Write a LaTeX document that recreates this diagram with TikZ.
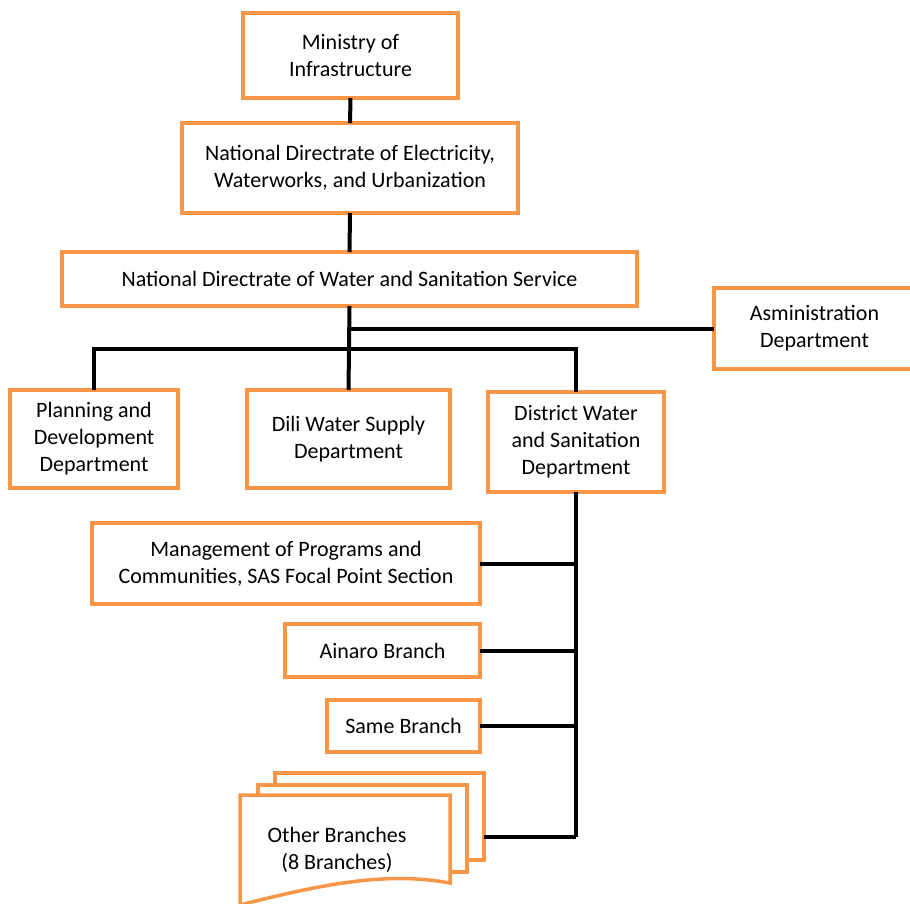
\documentclass[tikz,border=0pt]{standalone}
\usepackage{fontspec}
\setmainfont{Carlito}
\definecolor{borange}{HTML}{F79646}
\begin{document}
\begin{tikzpicture}[x=1pt,y=-1pt,
  box/.style={draw=borange,line width=3.5pt,fill=white,align=center,inner sep=0pt,outer sep=0pt,
    font=\fontsize{22}{27}\selectfont},
  conn/.style={line width=4pt,black}]
\useasboundingbox (0,0) rectangle (910,903);
\clip (0,0) rectangle (910,903);
\node[box,minimum width=215pt,minimum height=85pt] (min) at (350.5,55.5) {Ministry of\\Infrastructure};
\node[box,minimum width=336pt,minimum height=90pt] (ndewu) at (350,168) {National Directrate of Electricity,\\Waterworks, and Urbanization};
\node[box,minimum width=575pt,minimum height=54pt] (ndwss) at (349.5,279) {National Directrate of Water and Sanitation Service};
\node[box,minimum width=201pt,minimum height=81pt] (adm) at (814.5,328.5) {Asministration\\Department};
\node[box,minimum width=168pt,minimum height=98pt] (plan) at (94,439) {Planning and\\Development\\Department};
\node[box,minimum width=203pt,minimum height=98pt] (dili) at (348.5,439) {Dili Water Supply\\Department};
\node[box,minimum width=176pt,minimum height=100pt] (dist) at (576,442) {District Water\\and Sanitation\\Department};
\node[box,minimum width=388pt,minimum height=81pt] (mgmt) at (286,563.5) {Management of Programs and\\Communities, SAS Focal Point Section};
\node[box,minimum width=195pt,minimum height=53pt] (ain) at (382.5,650.5) {Ainaro Branch};
\node[box,minimum width=153pt,minimum height=52pt] (same) at (403.5,726) {Same Branch};
% multi-document
\draw[draw=borange,line width=3.5pt,fill=white] (275,773) rectangle (484,860);
\draw[draw=borange,line width=3.5pt,fill=white] (258,785) rectangle (467,872);
\draw[draw=borange,line width=3.5pt,fill=white] (240,910) -- (240,795) -- (450,795) -- (450,883)
  .. controls (390,872) and (330,882) .. (240,905);
\coordinate (othr) at (484,837);
\node[align=center,font=\fontsize{22}{27}\selectfont] (other) at (337,850) {Other Branches\\(8 Branches)};
% connectors
\draw[conn] (min.south) -- (ndewu.north);
\draw[conn] (ndewu.south) -- (ndwss.north);
\draw[conn] (ndwss.south) -- (dili.north);
\coordinate (ja) at (350,329);
\draw[conn] (ja) -- (adm.west |- ja);
\coordinate (jb) at (350,349);
\draw[conn] (plan.north) -- (plan.north |- jb) -- (dist.north |- jb) -- (dist.north);
\draw[conn] (dist.south) -- (dist.south |- othr);
\draw[conn] (mgmt.east) -- (dist.south |- mgmt.east);
\draw[conn] (ain.east) -- (dist.south |- ain.east);
\draw[conn] (same.east) -- (dist.south |- same.east);
\draw[conn] (othr) -- (dist.south |- othr);
\end{tikzpicture}
\end{document}
